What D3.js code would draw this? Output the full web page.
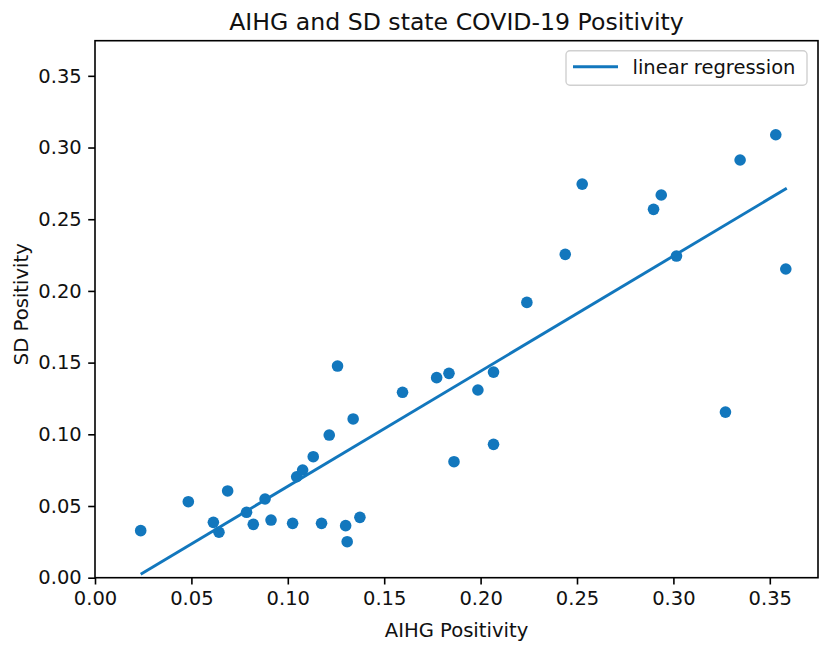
<!DOCTYPE html>
<html>
<head>
<meta charset="utf-8">
<script src="https://cdn.jsdelivr.net/npm/d3@7"></script>
<style>
  html, body { margin: 0; padding: 0; background: #fff; }
  svg { display: block; font-family: "DejaVu Sans", sans-serif; }
</style>
</head>
<body>
<svg id="chart" width="824" height="645"></svg>
<script>
// ---- data ----
const aihgPositivity = [0.0237, 0.0484, 0.0614, 0.0643, 0.0688, 0.0786, 0.0821, 0.0882, 0.0913, 0.1025,
  0.1046, 0.1077, 0.1132, 0.1175, 0.1215, 0.1258, 0.1300, 0.1308, 0.1339, 0.1374,
  0.1595, 0.1772, 0.1836, 0.1862, 0.1986, 0.2067, 0.2067, 0.2240, 0.2439, 0.2527,
  0.2897, 0.2937, 0.3016, 0.3270, 0.3346, 0.3531, 0.3583];
const sdPositivity = [0.0328, 0.0530, 0.0386, 0.0317, 0.0605, 0.0456, 0.0372, 0.0549, 0.0402, 0.0379,
  0.0704, 0.0751, 0.0844, 0.0379, 0.0995, 0.1476, 0.0363, 0.0251, 0.1107, 0.0421,
  0.1293, 0.1395, 0.1425, 0.0809, 0.1309, 0.1434, 0.0930, 0.1920, 0.2255, 0.2745,
  0.2569, 0.2669, 0.2243, 0.1155, 0.2913, 0.3089, 0.2153];
// regression line end points
const fitX = [0.0237, 0.3588];
const fitY = [0.0024, 0.2716];
const xTicks = [0.00, 0.05, 0.10, 0.15, 0.20, 0.25, 0.30, 0.35];
const yTicks = [0.00, 0.05, 0.10, 0.15, 0.20, 0.25, 0.30, 0.35];
const titleText = "AIHG and SD state COVID-19 Positivity";
const xLabel = "AIHG Positivity";
const yLabel = "SD Positivity";
const legendLabel = "linear regression";

const color = "#1277bd";
const svg = d3.select("#chart");
const mLeft = 95, mRight = 818, mTop = 40.7, mBottom = 577.7;

const x = d3.scaleLinear().domain([0, 0.375]).range([mLeft, mRight]);
const y = d3.scaleLinear().domain([0, 0.3745]).range([mBottom, mTop]);

// points
svg.append("g").selectAll("circle")
  .data(aihgPositivity.map((v, i) => [v, sdPositivity[i]]))
  .join("circle")
  .attr("cx", d => x(d[0]))
  .attr("cy", d => y(d[1]))
  .attr("r", 5.8)
  .attr("fill", color);

// regression line
svg.append("path")
  .datum(fitX.map((v, i) => [v, fitY[i]]))
  .attr("d", d3.line().x(d => x(d[0])).y(d => y(d[1])))
  .attr("fill", "none")
  .attr("stroke", color)
  .attr("stroke-width", 2.9);

// axes
const fmt = d3.format(".2f");
const xAxis = svg.append("g")
  .attr("transform", `translate(0,${mBottom})`)
  .call(d3.axisBottom(x).tickValues(xTicks).tickFormat(fmt).tickSize(6.8).tickPadding(6.5));
const yAxis = svg.append("g")
  .attr("transform", `translate(${mLeft},0)`)
  .call(d3.axisLeft(y).tickValues(yTicks).tickFormat(fmt).tickSize(6.8).tickPadding(6.5));
[xAxis, yAxis].forEach(a => {
  a.select(".domain").remove();
  a.selectAll(".tick line").attr("stroke", "#000").attr("stroke-width", 1.6);
  a.selectAll(".tick text").attr("fill", "#111").style("font-size", "19.5px")
    .style("font-family", "'DejaVu Sans', sans-serif");
});

// frame
svg.append("rect")
  .attr("x", mLeft).attr("y", mTop)
  .attr("width", mRight - mLeft).attr("height", mBottom - mTop)
  .attr("fill", "none").attr("stroke", "#000").attr("stroke-width", 1.6);

// title and labels
svg.append("text")
  .attr("x", (mLeft + mRight) / 2).attr("y", 29.5)
  .attr("text-anchor", "middle")
  .style("font-size", "23.6px").attr("fill", "#111")
  .text(titleText);
svg.append("text")
  .attr("x", (mLeft + mRight) / 2).attr("y", 636.5)
  .attr("text-anchor", "middle")
  .style("font-size", "19.6px").attr("fill", "#111")
  .text(xLabel);
svg.append("text")
  .attr("transform", `translate(28,${(mTop + mBottom) / 2 - 5}) rotate(-90)`)
  .attr("text-anchor", "middle")
  .style("font-size", "19.6px").attr("fill", "#111")
  .text(yLabel);

// legend
const lg = svg.append("g");
lg.append("rect")
  .attr("x", 566).attr("y", 50.7).attr("width", 241).attr("height", 34.5)
  .attr("rx", 4).attr("fill", "#fff").attr("fill-opacity", 0.8)
  .attr("stroke", "#d0d0d0").attr("stroke-width", 1.4);
lg.append("line")
  .attr("x1", 573).attr("x2", 618).attr("y1", 66.7).attr("y2", 66.7)
  .attr("stroke", color).attr("stroke-width", 2.9);
lg.append("text")
  .attr("x", 632.5).attr("y", 74)
  .style("font-size", "19.5px").attr("fill", "#111")
  .text(legendLabel);
</script>
</body>
</html>
